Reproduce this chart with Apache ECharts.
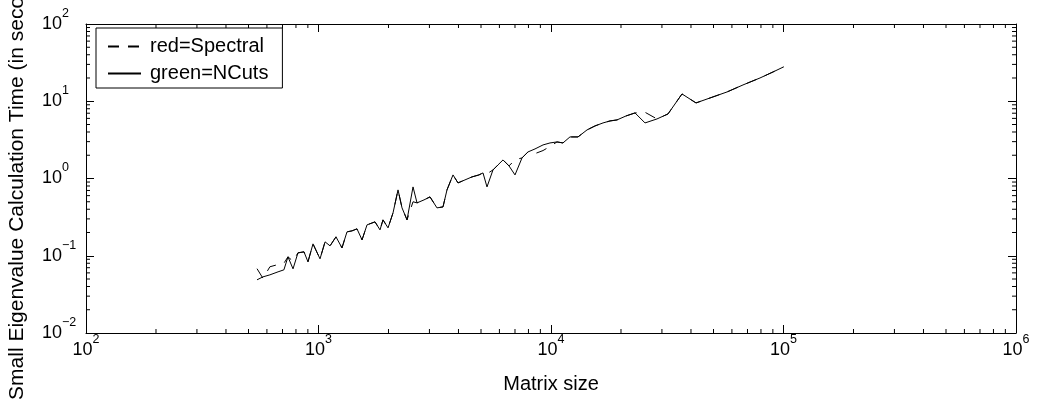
<!DOCTYPE html>
<html>
<head>
<meta charset="utf-8">
<script src="https://cdn.jsdelivr.net/npm/echarts@6/dist/echarts.min.js"></script>
<style>
html,body{margin:0;padding:0;background:#fff;}
#chart{width:1037px;height:402px;}
</style>
</head>
<body>
<div id="chart"></div>
<script>
const matrixSize = [544,577,618,670,710,739,777,816,866,901,947,1015,1067,1121,1189,1262,1326,1394,1464,1539,1617,1750,1839,1894,1991,2092,2198,2287,2403,2550,2653,2843,3017,3233,3432,3570,3789,3981,4267,4574,4900,5100,5305,5630,5916,6218,6598,7002,7504,7964,8535,9240,9901,10612,11260,12065,13066,14285,15460,16740,17940,19226,21020,22980,25370,28570,31860,36600,42050,48300,57150,66950,79230,90120,100000];

const ncutsTime = [0.0488,0.0533,0.0566,0.0619,0.0657,0.0968,0.0677,0.109,0.1123,0.0834,0.1425,0.0912,0.1513,0.1343,0.1756,0.1265,0.2038,0.2100,0.2229,0.1606,0.2511,0.2745,0.2163,0.2913,0.2296,0.3589,0.712,0.4166,0.2913,0.778,0.4834,0.5285,0.578,0.4166,0.4292,0.712,1.113,0.877,0.959,1.049,1.113,1.181,0.778,1.291,1.499,1.740,1.455,1.113,1.847,2.208,2.414,2.72,2.886,2.974,2.886,3.453,3.453,4.253,4.79,5.24,5.56,5.73,6.45,7.06,5.24,5.90,6.85,12.43,9.51,11.03,13.19,16.26,20.01,23.93,27.8];

const spectralTime = [0.068,0.051,0.072,0.077,0.080,0.0968,0.085,0.109,0.1123,0.0834,0.1425,0.0912,0.1513,0.1343,0.1756,0.1265,0.2038,0.2100,0.2229,0.1606,0.2511,0.2745,0.2163,0.2913,0.2296,0.3589,0.712,0.4166,0.2913,0.50,0.4834,0.5285,0.578,0.4166,0.4292,0.712,1.113,0.877,0.959,1.049,1.113,1.181,1.15,1.291,1.499,1.740,1.455,1.75,1.847,2.208,2.1,2.3,2.6,2.974,2.886,3.453,3.453,4.253,4.79,5.24,5.56,5.73,6.45,7.06,7.2,5.90,6.85,12.43,9.51,11.03,13.19,16.26,20.01,23.93,27.8];

const seriesNames = ['red=Spectral', 'green=NCuts'];
const xLabel = 'Matrix size';
const yLabel = 'Small Eigenvalue Calculation Time (in seconds)';
const xRange = [100, 1000000];
const yRange = [0.01, 100];

// minor tick positions (2..9 x 10^k)
const xMinor = [], yMinor = [];
for (let k = 2; k < 6; k++) for (let m = 2; m <= 9; m++) xMinor.push(m * Math.pow(10, k));
for (let k = -2; k < 2; k++) for (let m = 2; m <= 9; m++) yMinor.push(+(m * Math.pow(10, k)).toPrecision(3));

const FONT = '"Liberation Sans", Arial, Helvetica, sans-serif';

function powLabel(v) {
  const e = Math.round(Math.log10(v));
  const es = e < 0 ? '\u2212' + (-e) : String(e);
  return '{b|10}{e|' + es + '}';
}
const richLab = {
  b: { fontSize: 18, fontFamily: FONT, color: '#000', lineHeight: 34, verticalAlign: 'middle' },
  e: { fontSize: 12.5, fontFamily: FONT, color: '#000', lineHeight: 10, verticalAlign: 'top' }
};

const blackLine = { show: true, onZero: false, lineStyle: { color: '#000', width: 1 } };

const chart = echarts.init(document.getElementById('chart'), null, { renderer: 'canvas' });

function minorRender(isX) {
  return function (params, api) {
    const v = api.value(isX ? 0 : 1);
    const L = 4;
    if (isX) {
      const pb = api.coord([v, yRange[0]]);
      const pt = api.coord([v, yRange[1]]);
      return { type: 'group', children: [
        { type: 'line', shape: { x1: pb[0], y1: pb[1], x2: pb[0], y2: pb[1] - L }, style: { stroke: '#000', lineWidth: 1 } },
        { type: 'line', shape: { x1: pt[0], y1: pt[1], x2: pt[0], y2: pt[1] + L }, style: { stroke: '#000', lineWidth: 1 } }
      ] };
    } else {
      const pl = api.coord([xRange[0], v]);
      const pr = api.coord([xRange[1], v]);
      return { type: 'group', children: [
        { type: 'line', shape: { x1: pl[0], y1: pl[1], x2: pl[0] + L, y2: pl[1] }, style: { stroke: '#000', lineWidth: 1 } },
        { type: 'line', shape: { x1: pr[0], y1: pr[1], x2: pr[0] - L, y2: pr[1] }, style: { stroke: '#000', lineWidth: 1 } }
      ] };
    }
  };
}

const option = {
  animation: false,
  backgroundColor: '#fff',
  grid: { left: 86, right: 21, top: 24, bottom: 69, containLabel: false },
  legend: {
    data: seriesNames,
    orient: 'vertical',
    left: 96, top: 28,
    padding: [8, 14, 4, 11],
    itemGap: 6,
    itemWidth: 33,
    itemHeight: 14,
    borderColor: '#000', borderWidth: 1,
    backgroundColor: '#fff',
    itemStyle: { opacity: 0, color: 'transparent', borderWidth: 0 },
    textStyle: { fontSize: 20, fontFamily: FONT, color: '#000', lineHeight: 21, padding: [0, 0, 0, 4] }
  },
  xAxis: [
    {
      type: 'log', logBase: 10, min: xRange[0], max: xRange[1], interval: 1,
      position: 'bottom',
      name: xLabel, nameLocation: 'middle', nameGap: 41,
      nameTextStyle: { fontSize: 20, fontFamily: FONT, color: '#000' },
      axisLine: blackLine,
      axisTick: { show: true, inside: true, length: 8, lineStyle: { color: '#000' } },
      axisLabel: { show: true, margin: 0, formatter: powLabel, rich: richLab },
      splitLine: { show: false }
    },
    {
      type: 'log', logBase: 10, min: xRange[0], max: xRange[1], interval: 1,
      position: 'top',
      axisLine: blackLine,
      axisTick: { show: true, inside: true, length: 8, lineStyle: { color: '#000' } },
      axisLabel: { show: false },
      splitLine: { show: false }
    }
  ],
  yAxis: [
    {
      type: 'log', logBase: 10, min: yRange[0], max: yRange[1], interval: 1,
      position: 'left',
      axisLine: blackLine,
      axisTick: { show: true, inside: true, length: 8, lineStyle: { color: '#000' } },
      axisLabel: { show: true, margin: 44, align: 'left', formatter: powLabel, rich: richLab },
      splitLine: { show: false }
    },
    {
      type: 'log', logBase: 10, min: yRange[0], max: yRange[1], interval: 1,
      position: 'right',
      axisLine: blackLine,
      axisTick: { show: true, inside: true, length: 8, lineStyle: { color: '#000' } },
      axisLabel: { show: false },
      splitLine: { show: false }
    }
  ],
  graphic: [{
    type: 'text',
    x: 17, y: 178,
    rotation: Math.PI / 2,
    style: {
      text: yLabel,
      font: '21px ' + FONT,
      fill: '#000',
      textAlign: 'center',
      textVerticalAlign: 'middle'
    }
  }],
  series: [
    {
      name: seriesNames[0], type: 'line', xAxisIndex: 0, yAxisIndex: 0,
      data: matrixSize.map((x, i) => [x, spectralTime[i]]),
      showSymbol: false, symbol: 'none',
      itemStyle: { color: '#000' },
      lineStyle: { color: '#000', width: 1, type: [11, 9] },
      z: 3
    },
    {
      name: seriesNames[1], type: 'line', xAxisIndex: 0, yAxisIndex: 0,
      data: matrixSize.map((x, i) => [x, ncutsTime[i]]),
      showSymbol: false, symbol: 'none',
      itemStyle: { color: '#000' },
      lineStyle: { color: '#000', width: 1, type: 'solid' },
      z: 4
    },
    {
      type: 'custom', xAxisIndex: 0, yAxisIndex: 0, silent: true, clip: false,
      renderItem: minorRender(true),
      data: xMinor.map(v => [v, 1]),
      encode: { x: 0, y: 1 }
    },
    {
      type: 'custom', xAxisIndex: 0, yAxisIndex: 0, silent: true, clip: false,
      renderItem: minorRender(false),
      data: yMinor.map(v => [1000, v]),
      encode: { x: 0, y: 1 }
    }
  ]
};
chart.setOption(option);
</script>
</body>
</html>
